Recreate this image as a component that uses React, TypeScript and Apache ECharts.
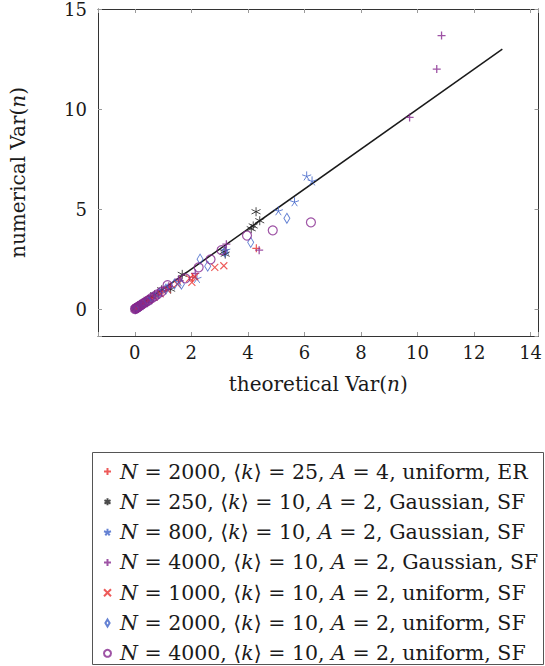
import React, { useEffect, useRef } from "react";
import * as echarts from "echarts";

// ---- data (theoretical Var, numerical Var) ----
const erN2000k25: number[][] = [[0.03,0.03],[0.08,0.08],[0.15,0.14],[0.25,0.24],[0.38,0.36],[0.5,0.48],[0.65,0.62],[0.8,0.74],[1.0,0.93],[1.25,1.12],[1.6,1.42],[2.05,1.6],[4.3,3.04]];
const gN250: number[][] = [[0.02,0.02],[0.06,0.06],[0.12,0.12],[0.2,0.2],[0.32,0.33],[0.48,0.49],[0.7,0.72],[0.95,0.97],[1.27,1.0],[1.68,1.74],[3.16,2.87],[3.2,2.75],[4.12,4.02],[4.19,4.16],[4.42,4.42],[4.29,4.87]];
const gN800: number[][] = [[0.03,0.03],[0.1,0.09],[0.2,0.18],[0.35,0.32],[0.5,0.46],[0.7,0.64],[0.9,0.82],[1.15,1.05],[1.55,1.38],[2.2,1.54],[3.22,2.95],[5.08,4.92],[5.65,5.37],[6.08,6.66],[6.27,6.41]];
const gN4000: number[][] = [[0.02,0.02],[0.07,0.07],[0.14,0.14],[0.24,0.24],[0.36,0.35],[0.52,0.5],[0.72,0.7],[0.95,0.93],[1.2,1.15],[1.55,1.5],[2.14,1.79],[3.24,3.25],[4.4,2.95],[9.72,9.58],[10.68,12.0],[10.85,13.67]];
const uN1000: number[][] = [[0.04,0.04],[0.12,0.11],[0.22,0.2],[0.35,0.32],[0.5,0.45],[0.68,0.6],[0.9,0.78],[1.15,0.98],[1.5,1.25],[1.94,1.54],[2.02,1.34],[2.12,1.62],[2.83,2.09],[3.15,2.17]];
const uN2000: number[][] = [[0.03,0.03],[0.09,0.09],[0.18,0.17],[0.3,0.28],[0.45,0.42],[0.62,0.58],[0.85,0.78],[1.1,1.0],[1.4,1.25],[1.65,1.25],[2.31,2.5],[2.58,2.15],[3.19,2.87],[4.1,3.34],[5.38,4.54]];
const uN4000: number[][] = [[0.01,0.01],[0.03,0.03],[0.05,0.05],[0.08,0.07],[0.11,0.1],[0.14,0.13],[0.18,0.17],[0.22,0.2],[0.27,0.25],[0.32,0.3],[0.38,0.35],[0.45,0.41],[0.52,0.48],[0.6,0.56],[0.7,0.64],[0.8,0.74],[0.95,0.88],[1.16,1.2],[1.79,1.54],[2.26,2.09],[2.68,2.49],[3.07,2.95],[3.97,3.68],[4.88,3.94],[6.23,4.34]];
const identityLine: number[][] = [[0, 0], [13, 13]];

const seriesNames = [
  "N = 2000, ⟨k⟩ = 25, A = 4, uniform, ER",
  "N = 250, ⟨k⟩ = 10, A = 2, Gaussian, SF",
  "N = 800, ⟨k⟩ = 10, A = 2, Gaussian, SF",
  "N = 4000, ⟨k⟩ = 10, A = 2, Gaussian, SF",
  "N = 1000, ⟨k⟩ = 10, A = 2, uniform, SF",
  "N = 2000, ⟨k⟩ = 10, A = 2, uniform, SF",
  "N = 4000, ⟨k⟩ = 10, A = 2, uniform, SF",
];
const seriesData = [erN2000k25, gN250, gN800, gN4000, uN1000, uN2000, uN4000];

const RED = "#e8312f";
const BLACK = "#1e1e1e";
const BLUE = "#3e63c8";
const PURPLE = "#86288f";

const SYM_PLUS = "path://M5,0L5,10M0,5L10,5";
const SYM_AST = "path://M5,0L5,10M0.67,2.5L9.33,7.5M0.67,7.5L9.33,2.5";
const SYM_STAR = "path://M5,5L5,0M5,5L0.245,3.455M5,5L2.061,9.045M5,5L7.939,9.045M5,5L9.755,3.455";
const SYM_X = "path://M0,0L10,10M10,0L0,10";
const SYM_DIAM = "path://M3,0L6,5L3,10L0,5Z";

const styles = [
  { color: RED, symbol: SYM_PLUS, size: 8, width: 1.2 },
  { color: BLACK, symbol: SYM_AST, size: 9, width: 1 },
  { color: BLUE, symbol: SYM_STAR, size: 9, width: 1 },
  { color: PURPLE, symbol: SYM_PLUS, size: 8, width: 1.3 },
  { color: RED, symbol: SYM_X, size: 7, width: 1.1 },
  { color: BLUE, symbol: SYM_DIAM, size: [6, 10], width: 1 },
  { color: PURPLE, symbol: "circle", size: 9, width: 1.2 },
];

const FONT = "'DejaVu Serif', serif";

function richName(name: string): string {
  return name
    .replace(/^N/, "{i|N}")
    .replace("⟨k⟩", "⟨{i|k}⟩")
    .replace(" A ", " {i|A} ");
}

export default function App() {
  const ref = useRef<HTMLDivElement>(null);
  useEffect(() => {
    if (!ref.current) return;
    const chart = echarts.init(ref.current, null, { renderer: "svg" });
    const tickStyle = { show: true, inside: true, length: 4, lineStyle: { color: "#9a9a9a", width: 1 } };
    const axisLineStyle = { show: true, onZero: false, lineStyle: { color: "#333", width: 1 } };
    const labelStyle = { color: "#1a1a1a", fontSize: 18, fontFamily: FONT };
    const nameStyle = {
      color: "#1a1a1a",
      fontSize: 20,
      fontFamily: FONT,
      rich: { i: { fontStyle: "italic", fontSize: 20, fontFamily: FONT } },
    };
    const scatterSeries = seriesNames.map((name, i) => ({
      name,
      type: "scatter",
      data: seriesData[i],
      symbol: styles[i].symbol,
      symbolSize: styles[i].size,
      itemStyle: { color: "rgba(0,0,0,0)", borderColor: styles[i].color, borderWidth: styles[i].width },
      emphasis: { disabled: true },
      z: 3,
    }));
    chart.setOption({
      animation: false,
      grid: { left: 94, right: 2, top: 9, bottom: 330, containLabel: false },
      xAxis: [
        {
          type: "value",
          min: -1.3,
          max: 14.28,
          minInterval: 2,
          maxInterval: 2,
          position: "bottom",
          axisLine: axisLineStyle,
          axisTick: tickStyle,
          splitLine: { show: false },
          axisLabel: {
            ...labelStyle,
            margin: 7,
            formatter: (v: number) => (Math.abs(v % 2) < 1e-6 ? String(Math.round(v)) : ""),
          },
          name: "theoretical Var({i|n})",
          nameLocation: "middle",
          nameGap: 38,
          nameTextStyle: nameStyle,
        },
        {
          type: "value",
          min: -1.3,
          max: 14.28,
          minInterval: 2,
          maxInterval: 2,
          position: "top",
          axisLine: axisLineStyle,
          axisTick: tickStyle,
          splitLine: { show: false },
          axisLabel: { show: false },
        },
      ],
      yAxis: [
        {
          type: "value",
          min: -1.34,
          max: 15,
          minInterval: 5,
          maxInterval: 5,
          position: "left",
          axisLine: axisLineStyle,
          axisTick: tickStyle,
          splitLine: { show: false },
          axisLabel: {
            ...labelStyle,
            margin: 11,
            formatter: (v: number) => (Math.abs(v % 5) < 1e-6 ? String(Math.round(v)) : ""),
          },
          name: "numerical Var({i|n})",
          nameLocation: "middle",
          nameGap: 70,
          nameTextStyle: nameStyle,
        },
        {
          type: "value",
          min: -1.34,
          max: 15,
          minInterval: 5,
          maxInterval: 5,
          position: "right",
          axisLine: axisLineStyle,
          axisTick: tickStyle,
          splitLine: { show: false },
          axisLabel: { show: false },
        },
      ],
      legend: {
        orient: "vertical",
        left: 103,
        top: 461,
        padding: 0,
        itemWidth: 7,
        itemHeight: 7,
        itemGap: 9.3,
        data: seriesNames,
        selectedMode: false,
        formatter: (name: string) => richName(name),
        textStyle: {
          color: "#1a1a1a",
          fontSize: 20.5,
          lineHeight: 20,
          padding: [0, 0, 0, 4],
          fontFamily: FONT,
          rich: { i: { fontStyle: "italic", fontSize: 20.5, lineHeight: 20, fontFamily: FONT } },
        },
      },
      graphic: [
        {
          type: "rect",
          shape: { x: 92.5, y: 452.5, width: 451, height: 212 },
          style: { fill: "none", stroke: "#555", lineWidth: 1 },
          silent: true,
        },
      ],
      series: [
        {
          type: "line",
          data: identityLine,
          showSymbol: false,
          symbol: "none",
          lineStyle: { color: "#1a1a1a", width: 1.5 },
          emphasis: { disabled: true },
          z: 2,
        },
        ...scatterSeries,
      ],
    });
    return () => chart.dispose();
  }, []);
  return <div ref={ref} style={{ position: "absolute", left: 0, top: 0, width: 545, height: 666 }} />;
}
